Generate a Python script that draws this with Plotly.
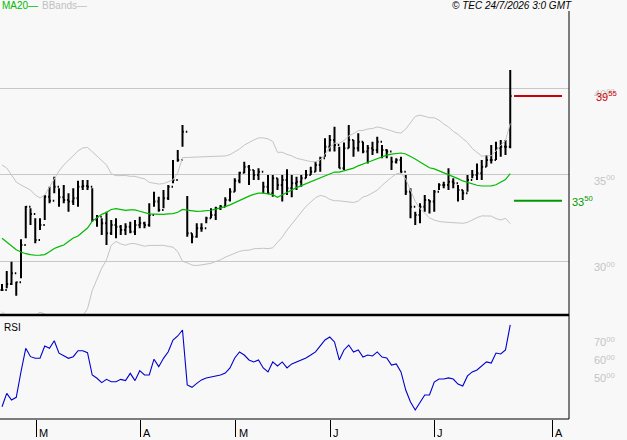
import numpy as np
import plotly.graph_objects as go

# ---------------- data ----------------
high = [28.69, 29.44, 29.98, 28.82, 31.27, 33.20, 33.06, 32.49, 32.49, 33.83,
        34.31, 34.89, 34.22, 34.41, 33.93, 34.22, 34.66, 34.70, 34.70, 34.22,
        32.68, 32.49, 32.87, 32.39, 32.49, 32.10, 32.20, 32.29, 32.39, 32.58,
        32.29, 33.35, 34.02, 33.73, 34.12, 34.41, 35.86, 36.43, 37.88, 33.78,
        31.62, 32.20, 32.20, 32.58, 33.06, 33.16, 33.25, 33.70, 34.22, 34.80,
        35.18, 35.76, 35.57, 35.28, 35.38, 34.60, 34.99, 34.99, 34.80, 34.99,
        35.32, 34.99, 34.89, 34.99, 35.28, 35.47, 35.76, 36.05, 37.11, 37.30,
        37.78, 36.62, 36.86, 37.88, 37.01, 37.40, 36.91, 36.72, 36.91, 37.20,
        36.72, 36.47, 36.05, 35.95, 36.05, 34.99, 34.22, 32.87, 33.35, 33.83,
        33.54, 34.12, 34.51, 34.60, 35.38, 34.80, 34.41, 34.12, 34.99, 35.28,
        35.66, 35.86, 36.14, 36.72, 36.91, 37.01, 37.01, 41.06]
low = [28.28, 28.44, 28.63, 28.01, 29.02, 31.33, 32.10, 31.04, 31.81, 32.39,
       33.35, 33.93, 33.16, 33.35, 32.87, 33.25, 33.16, 34.12, 34.12, 32.29,
       32.00, 31.52, 30.94, 31.52, 31.33, 31.52, 31.52, 31.62, 31.52, 31.91,
       31.91, 32.00, 33.16, 32.87, 33.06, 33.54, 34.51, 35.76, 36.62, 31.42,
       31.04, 31.36, 31.71, 32.20, 32.49, 32.39, 32.96, 33.16, 33.45, 34.02,
       34.51, 35.09, 34.41, 34.70, 34.70, 33.93, 33.89, 33.73, 34.12, 33.45,
       33.83, 33.70, 34.12, 34.31, 34.80, 34.99, 35.18, 35.18, 36.05, 36.34,
       36.34, 35.38, 35.28, 36.53, 36.05, 36.34, 36.24, 35.66, 36.14, 36.24,
       35.95, 35.95, 35.28, 35.66, 35.09, 33.83, 32.49, 32.10, 32.20, 32.87,
       32.77, 32.87, 34.12, 34.22, 34.12, 34.22, 33.45, 33.54, 34.02, 34.80,
       34.70, 34.70, 35.47, 35.66, 35.86, 36.05, 36.14, 36.53]
close = [28.34, 28.69, 29.31, 28.79, 30.94, 33.16, 32.73, 31.23, 32.10, 33.73,
         33.50, 34.31, 33.70, 33.54, 33.45, 33.64, 34.31, 34.35, 34.31, 32.39,
         32.58, 32.20, 31.62, 32.10, 32.00, 31.81, 32.00, 31.71, 32.10, 32.20,
         32.10, 32.68, 33.45, 32.96, 33.64, 34.31, 34.70, 35.86, 37.49, 31.62,
         31.42, 31.91, 31.91, 32.49, 32.68, 33.06, 33.16, 33.54, 34.02, 34.66,
         35.12, 35.47, 35.28, 34.99, 35.18, 34.31, 33.93, 34.80, 34.41, 34.70,
         34.22, 34.51, 34.60, 34.80, 34.99, 35.18, 35.57, 35.95, 36.62, 37.01,
         36.72, 35.38, 36.53, 37.01, 36.53, 36.91, 36.34, 36.53, 36.43, 36.91,
         36.43, 36.34, 35.76, 35.86, 35.18, 34.02, 33.16, 32.68, 33.16, 33.54,
         33.45, 34.02, 34.41, 34.41, 34.60, 34.51, 34.12, 33.93, 34.70, 34.99,
         35.09, 35.47, 35.86, 35.86, 36.53, 36.62, 36.62, 39.55]
# indicator values for the first 19 sessions (warm-up period)
ma20_head = [31.33, 31.10, 30.87, 30.67, 30.54, 30.44, 30.39, 30.35, 30.36, 30.39,
             30.55, 30.74, 30.85, 30.94, 31.14, 31.35, 31.46, 31.69, 31.92]
bb_upper_head = [35.57, 35.39, 34.99, 34.58, 34.41, 34.24, 34.12, 33.83, 33.66, 33.83,
                 34.30, 34.70, 35.22, 35.57, 35.86, 36.14, 36.38, 36.55, 36.58]
rsi = [31.2, 38.6, 34.9, 36.4, 50.5, 63.4, 58.8, 57.9, 57.9, 64.7,
       63.4, 67.6, 60.7, 59.2, 57.9, 58.8, 62.1, 62.1, 61.0, 48.7,
       46.9, 44.5, 46.3, 45.0, 45.0, 46.3, 45.6, 49.6, 45.6, 51.1,
       48.7, 48.7, 57.4, 53.3, 57.9, 61.5, 68.0, 70.2, 73.5, 43.2,
       41.9, 44.1, 46.0, 47.1, 47.6, 48.2, 48.7, 49.8, 52.6, 58.1,
       61.4, 59.7, 57.0, 55.9, 57.0, 52.6, 50.4, 55.9, 53.7, 55.9,
       52.6, 54.8, 55.9, 57.0, 58.1, 59.7, 61.4, 64.7, 68.0, 69.6,
       66.9, 57.0, 62.5, 65.2, 61.4, 62.5, 58.6, 59.7, 59.2, 61.4,
       58.6, 58.1, 54.2, 54.8, 50.4, 40.4, 33.8, 29.4, 33.8, 37.7,
       37.7, 44.8, 46.5, 46.5, 47.1, 46.5, 43.7, 42.6, 48.2, 50.4,
       51.5, 53.7, 55.9, 55.3, 60.8, 60.3, 62.5, 76.3]
month_ticks = [8.24, 30.14, 50.18, 70.14, 92.03, 116.87]
month_labels = ["M", "A", "M", "J", "J", "A"]
price_ticks = [30, 35, 40]
price_labels = ["30<sup>00</sup>", "35<sup>00</sup>", "40<sup>00</sup>"]
rsi_ticks = [50, 60, 70]
rsi_labels = ["50<sup>00</sup>", "60<sup>00</sup>", "70<sup>00</sup>"]
level_values = [39.55, 33.50]
level_labels = ["39<sup>55</sup>", "33<sup>50</sup>"]
level_colors = ["#cc0000", "#009900"]

# ---------------- indicators ----------------
n = len(close)
x = np.arange(1, n + 1)
c = np.array(close)
ma = np.empty(n)
up = np.empty(n)
lo = np.empty(n)
for i in range(n):
    if i < 19:
        ma[i] = ma20_head[i]
        up[i] = bb_upper_head[i]
        lo[i] = 2 * ma[i] - up[i]
    else:
        w = c[i - 19:i + 1]
        ma[i] = w.mean()
        sd = w.std()
        up[i] = ma[i] + 2 * sd
        lo[i] = ma[i] - 2 * sd
open_ = [close[0]] + close[:-1]

# ---------------- geometry ----------------
W, H = 627, 440
ML, MR, MT, MB = 0, 58, 11, 21
plot_h = H - MT - MB          # 408
split = (419 - 315) / plot_h  # rsi panel fraction
xr = [0.579, 120.37]
BG = "#f8f8f8"
FONT = "Liberation Sans, Arial, sans-serif"

fig = go.Figure()
grey = "#c4c4c4"
fig.add_trace(go.Scatter(x=x, y=up, mode="lines", line=dict(color=grey, width=1),
                         xaxis="x", yaxis="y", hoverinfo="skip"))
fig.add_trace(go.Scatter(x=x, y=lo, mode="lines", line=dict(color=grey, width=1),
                         xaxis="x", yaxis="y", hoverinfo="skip"))
fig.add_trace(go.Scatter(x=x, y=ma, mode="lines", line=dict(color="#00bb00", width=1.2),
                         xaxis="x", yaxis="y", hoverinfo="skip"))
fig.add_trace(go.Ohlc(x=x, open=open_, high=high, low=low, close=close,
                      increasing=dict(line=dict(color="black", width=2)),
                      decreasing=dict(line=dict(color="black", width=2)),
                      tickwidth=0.3, xaxis="x", yaxis="y", hoverinfo="skip"))
for v, col in zip(level_values, level_colors):
    fig.add_trace(go.Scatter(x=[n + 0.8, n + 10.9], y=[v, v], mode="lines",
                             line=dict(color=col, width=2), xaxis="x", yaxis="y",
                             hoverinfo="skip"))
fig.add_trace(go.Scatter(x=x, y=rsi, mode="lines", line=dict(color="#0000cc", width=1.1),
                         xaxis="x2", yaxis="y2", hoverinfo="skip"))

tickfont = dict(family=FONT, size=11, color="#c4c4c4")
fig.update_layout(
    width=W, height=H, margin=dict(l=ML, r=MR, t=MT, b=MB),
    paper_bgcolor=BG, plot_bgcolor=BG, showlegend=False,
    xaxis=dict(domain=[0, 1], range=xr, showticklabels=False, showgrid=False,
               zeroline=False, showline=False, ticks="", anchor="y",
               rangeslider=dict(visible=False)),
    yaxis=dict(domain=[split, 1], range=[26.896, 44.468], side="right", anchor="x",
               tickvals=price_ticks, ticktext=price_labels, tickfont=tickfont,
               showgrid=True, gridcolor="#c8c8c8", gridwidth=1, zeroline=False,
               ticks="", ticklabelstandoff=24, ticklabelshift=6),
    xaxis2=dict(domain=[0, 1], range=xr, anchor="y2", tickvals=month_ticks,
                showticklabels=False, ticks="outside", ticklen=17, tickwidth=1,
                tickcolor="black", showgrid=False, zeroline=False, showline=False,
                rangeslider=dict(visible=False)),
    yaxis2=dict(domain=[0, split], range=[24.46, 81.76], side="right", anchor="x2",
                tickvals=rsi_ticks, ticktext=rsi_labels, tickfont=tickfont,
                showgrid=False, zeroline=False, ticks="", ticklabelstandoff=24,
                ticklabelshift=6),
)

shapes = [
    dict(type="line", xref="paper", yref="paper", x0=1, x1=1, y0=0, y1=1,
         line=dict(color="black", width=1)),
    dict(type="line", xref="paper", yref="paper", x0=0, x1=1, y0=split, y1=split,
         line=dict(color="black", width=2.5)),
    dict(type="line", xref="paper", yref="paper", x0=0, x1=1, y0=0, y1=0,
         line=dict(color="black", width=1)),
]
fig.update_layout(shapes=shapes)

ann = []
ann.append(dict(xref="paper", yref="paper", x=0, y=1, yshift=6, xanchor="left",
                yanchor="middle", showarrow=False, text="MA20—",
                font=dict(family=FONT, size=10, color="#00bb00")))
ann.append(dict(xref="paper", yref="paper", x=40 / 569, y=1, yshift=6, xanchor="left",
                yanchor="middle", showarrow=False, text="BBands—",
                font=dict(family=FONT, size=10, color="#c0c0c0")))
ann.append(dict(xref="paper", yref="paper", x=574 / 569, y=1, yshift=6, xanchor="right",
                yanchor="middle", showarrow=False, text="<i>© TEC 24/7/2026 3:0 GMT</i>",
                font=dict(family=FONT, size=10, color="black")))
ann.append(dict(xref="paper", yref="paper", x=2 / 569, y=split, yshift=-12,
                xanchor="left", yanchor="middle", showarrow=False, text="RSI",
                font=dict(family=FONT, size=10, color="black")))
for t, lab in zip(month_ticks, month_labels):
    ann.append(dict(xref="x2", yref="paper", x=t, y=0, xshift=1, yshift=-14,
                    xanchor="left", yanchor="middle", showarrow=False, text=lab,
                    font=dict(family=FONT, size=11, color="black")))
label_x = [594 / 569, 570 / 569]
for v, lab, col, lx in zip(level_values, level_labels, level_colors, label_x):
    ann.append(dict(xref="paper", yref="y", x=lx, y=v, xanchor="left", yanchor="middle",
                    showarrow=False, text=lab, font=dict(family=FONT, size=11, color=col)))
fig.update_layout(annotations=ann)

fig.write_html("out.html")
